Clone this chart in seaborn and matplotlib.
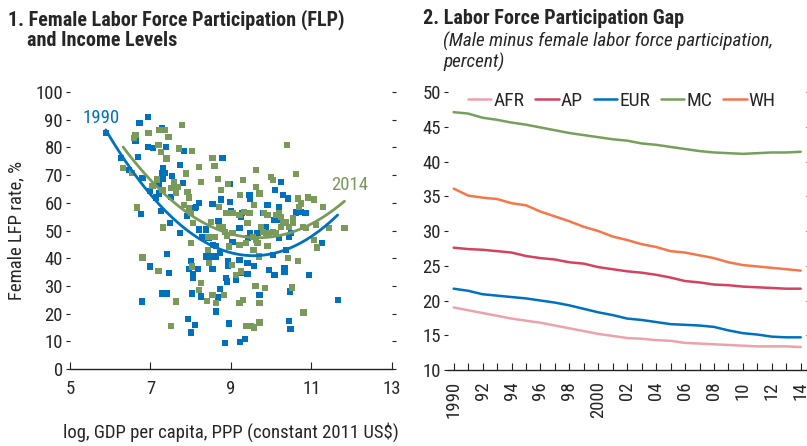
import numpy as np
import pandas as pd
import matplotlib
matplotlib.use("Agg")
import matplotlib.pyplot as plt
import seaborn as sns

# ---------------- Panel 1 data ----------------
gdp_1990 = [5.89, 6.73, 6.94, 6.27, 6.63, 6.69, 6.47, 6.80, 6.94, 7.07, 7.28, 7.38, 7.84, 7.32,
            7.30, 7.37, 7.32, 7.22, 6.99, 7.13, 7.22, 7.53, 7.26, 7.51, 7.74, 7.81, 7.73, 7.49,
            7.90, 8.13, 8.20, 8.10, 6.77, 7.41, 6.98, 7.46, 7.30, 7.42, 6.79, 8.00, 7.96, 8.05,
            8.06, 8.19, 8.03, 8.25, 7.94, 8.10, 8.00, 8.21, 8.38, 8.28, 8.44, 8.54, 8.56, 8.63,
            8.69, 8.76, 8.79, 8.98, 8.98, 9.00, 9.04, 9.21, 8.92, 8.93, 8.88, 8.90, 9.13, 8.73,
            8.68, 8.63, 8.96, 8.85, 9.23, 9.35, 8.54, 8.63, 8.54, 8.38, 8.50, 8.73, 9.21, 9.25,
            9.41, 9.41, 9.58, 9.43, 9.27, 9.25, 9.47, 9.46, 9.71, 9.95, 10.08, 9.87, 9.91, 10.24,
            10.08, 10.10, 10.20, 10.30, 10.41, 10.20, 10.45, 10.37, 10.33, 10.33, 10.49, 10.47,
            10.45, 10.48, 10.62, 10.74, 10.85, 10.93, 11.26, 11.65, 10.20, 10.04, 9.79, 9.66, 9.47]
flp_1990 = [85.2, 88.8, 91.0, 76.2, 82.4, 76.6, 71.8, 69.1, 80.2, 79.8, 87.0, 80.2, 78.6, 72.7,
            70.6, 70.9, 68.8, 67.0, 64.2, 61.9, 63.4, 69.6, 57.1, 62.2, 73.6, 67.2, 49.2, 52.8,
            55.2, 58.6, 60.0, 58.0, 55.9, 41.5, 37.0, 34.8, 27.3, 27.3, 24.4, 39.0, 36.1, 34.3,
            32.9, 36.1, 27.3, 26.2, 18.2, 16.0, 13.2, 50.4, 50.4, 47.8, 47.4, 59.5, 44.8, 44.4,
            53.4, 61.2, 76.2, 66.7, 60.4, 57.0, 46.0, 50.8, 38.8, 37.2, 33.0, 31.6, 32.2, 28.9,
            25.8, 20.8, 16.4, 9.4, 9.7, 10.8, 36.0, 40.6, 40.6, 40.6, 40.6, 42.0, 39.4, 34.6,
            38.4, 34.3, 37.3, 47.2, 56.2, 55.0, 61.6, 62.8, 26.8, 35.8, 34.0, 51.4, 59.2, 67.6,
            53.8, 64.6, 58.6, 62.8, 61.6, 47.2, 47.8, 43.0, 36.4, 35.2, 49.0, 28.0,
            17.2, 14.4, 56.5, 56.8, 56.2, 33.9, 45.4, 25.0, 53.8, 41.2, 56.2, 49.0, 49.0]

gdp_2014 = [6.63, 6.59, 6.32, 6.54, 6.67, 6.80, 6.95, 7.22, 7.37, 7.45, 7.20, 7.26, 7.40, 7.05,
            7.17, 7.30, 7.32, 7.20, 7.51, 7.59, 7.67, 7.63, 7.71, 7.78, 7.88, 8.03, 7.92, 7.95,
            7.84, 7.96, 8.00, 8.05, 8.00, 8.03, 8.21, 8.25, 8.25, 8.21, 8.54, 8.59, 8.68, 8.75,
            8.92, 8.71, 8.88, 8.96, 9.04, 9.21, 9.29, 9.23, 9.33, 9.46, 9.62, 9.62, 9.71, 9.58,
            9.83, 9.91, 10.00, 10.04, 10.12, 10.19, 10.24, 10.39, 10.62, 10.66, 10.70, 10.74,
            10.91, 11.07, 11.28, 8.71, 8.79, 8.85, 8.90, 9.04, 8.50, 8.59, 8.42, 8.42, 8.46,
            9.02, 9.12, 9.25, 8.54, 8.63, 8.40, 8.83, 9.21, 9.29, 9.61, 9.85, 9.71, 9.37, 9.50,
            9.58, 9.71, 7.63, 7.51, 10.52, 10.80, 11.14, 11.43, 11.82, 11.12, 11.07, 10.66,
            10.41, 10.54, 10.78, 10.87, 9.75, 9.79, 9.87, 9.95, 10.04, 10.12, 10.24, 9.54, 9.62,
            9.66, 9.56, 9.69, 9.37, 9.21, 8.96, 10.45, 10.54, 10.37, 10.29, 9.91, 9.41]
flp_2014 = [84.4, 83.4, 72.6, 70.8, 58.3, 40.3, 85.2, 86.4, 86.2, 83.8, 80.8, 78.4, 76.0, 66.0,
            68.4, 64.6, 51.1, 35.5, 65.5, 67.6, 65.8, 63.7, 79.6, 88.0, 70.6, 78.8, 64.0, 61.9,
            59.2, 58.0, 56.2, 52.6, 45.4, 37.0, 73.0, 67.6, 31.2, 28.6, 76.2, 73.2, 68.5, 64.6,
            66.7, 58.6, 56.4, 56.2, 56.2, 55.6, 68.2, 62.8, 56.8, 56.2, 71.8, 65.8, 63.4, 59.2,
            56.4, 55.6, 69.4, 68.2, 55.6, 56.4, 55.0, 80.8, 70.3, 61.6, 58.6, 59.8,
            61.9, 61.2, 58.6, 51.4, 51.4, 49.6, 48.0, 49.0, 53.2, 47.8, 47.8, 43.0, 38.2,
            37.6, 34.0, 35.2, 26.8, 23.8, 24.7, 26.8, 23.8, 25.0, 30.0, 29.2, 23.8, 15.6, 15.4,
            15.0, 16.8, 24.4, 15.6, 29.4, 20.4, 43.9, 50.8, 50.8, 52.0, 46.6, 39.0,
            40.0, 52.8, 51.4, 50.8, 51.4, 49.6, 49.0, 49.0, 49.6, 49.0, 51.4, 47.8, 46.8,
            45.4, 43.0, 40.6, 45.4, 44.8, 44.2, 51.4, 54.4, 53.2, 52.6, 44.5, 52.6]

# ---------------- Panel 2 data ----------------
years = list(range(1990, 2015))
regions = ["AFR", "AP", "EUR", "MC", "WH"]
gap_AFR = [19.0, 18.6, 18.2, 17.8, 17.4, 17.1, 16.8, 16.4, 16.0, 15.6, 15.2, 14.9, 14.6, 14.5,
           14.3, 14.2, 13.9, 13.8, 13.7, 13.6, 13.5, 13.4, 13.4, 13.4, 13.3]
gap_AP = [27.6, 27.4, 27.3, 27.1, 26.9, 26.4, 26.1, 25.9, 25.5, 25.3, 24.8, 24.5, 24.2, 24.0,
          23.7, 23.3, 22.8, 22.6, 22.3, 22.2, 22.0, 21.9, 21.8, 21.7, 21.7]
gap_EUR = [21.7, 21.4, 20.9, 20.7, 20.5, 20.3, 20.0, 19.7, 19.3, 18.8, 18.3, 17.9, 17.4, 17.2,
           16.9, 16.6, 16.5, 16.4, 16.2, 15.7, 15.3, 15.1, 14.8, 14.7, 14.7]
gap_MC = [47.1, 46.9, 46.3, 46.0, 45.6, 45.3, 44.9, 44.5, 44.1, 43.8, 43.5, 43.2, 43.0, 42.6,
          42.4, 42.1, 41.8, 41.5, 41.3, 41.2, 41.1, 41.2, 41.3, 41.3, 41.4]
gap_WH = [36.1, 35.1, 34.8, 34.6, 34.0, 33.7, 32.8, 32.1, 31.4, 30.6, 30.0, 29.2, 28.7, 28.1,
          27.7, 27.1, 26.9, 26.5, 26.1, 25.5, 25.1, 24.9, 24.7, 24.5, 24.3]
year_labels = ["1990", "92", "94", "96", "98", "2000", "02", "04", "06", "08", "10", "12", "14"]

# ---------------- styling ----------------
sns.set_theme(style="white")
FAM = ["Roboto Condensed", "DejaVu Sans"]
plt.rcParams["font.family"] = FAM
plt.rcParams["font.size"] = 13

BLUE = "#0071BC"
GREEN = "#7A9A5C"
colors = {"AFR": "#EBA3AB", "AP": "#D3435F", "EUR": "#0071BC", "MC": "#76A05A", "WH": "#F4774A"}
TICK_FS = 13.5

fig = plt.figure(figsize=(8.07, 4.46), dpi=100)
ax1 = fig.add_axes([0.0867, 0.1726, 0.399, 0.621])
ax2 = fig.add_axes([0.555, 0.1704, 0.4435, 0.6233])

# ---- panel 1 ----
df90 = pd.DataFrame({"x": gdp_1990, "y": flp_1990})
df14 = pd.DataFrame({"x": gdp_2014, "y": flp_2014})
sns.scatterplot(data=df90, x="x", y="y", ax=ax1, marker="s", s=20, color=BLUE,
                edgecolor="none", linewidth=0)
sns.scatterplot(data=df14, x="x", y="y", ax=ax1, marker="s", s=20, color=GREEN,
                edgecolor="none", linewidth=0)
sns.regplot(data=df90, x="x", y="y", ax=ax1, order=2, ci=None, scatter=False,
            line_kws=dict(color=BLUE, lw=2.0))
sns.regplot(data=df14, x="x", y="y", ax=ax1, order=2, ci=None, scatter=False,
            line_kws=dict(color=GREEN, lw=2.0))
ax1.text(5.78, 90.5, "1990", color=BLUE, fontsize=13.5, ha="center", va="center")
ax1.text(11.95, 66.5, "2014", color=GREEN, fontsize=13.5, ha="center", va="center")

ax1.set_xlim(5, 13)
ax1.set_ylim(0, 100)
ax1.set_xticks([5, 7, 9, 11, 13])
ax1.set_yticks(range(0, 101, 10))
ax1.set_xlabel("log, GDP per capita, PPP (constant 2011 US$)", fontsize=13.5, labelpad=17)
ax1.set_ylabel("Female LFP rate, %", fontsize=13.5, labelpad=7)

# ---- panel 2 ----
series = {"AFR": gap_AFR, "AP": gap_AP, "EUR": gap_EUR, "MC": gap_MC, "WH": gap_WH}
long = pd.DataFrame([(y, r, v) for r in regions for y, v in zip(years, series[r])],
                    columns=["year", "region", "gap"])
sns.lineplot(data=long, x="year", y="gap", hue="region", hue_order=regions,
             palette=colors, lw=1.8, ax=ax2)
ax2.set_xlim(1989.6, 2014.35)
ax2.set_ylim(10, 50)
ax2.set_yticks(range(10, 51, 5))
ax2.set_xticks(years, minor=True)
ax2.set_xticks(years[::2])
ax2.set_xticklabels(year_labels, rotation=90)
ax2.set_xlabel("")
ax2.set_ylabel("")
ax2.legend(loc="center", bbox_to_anchor=(0.056, 0.935, 0.86, 0.066), mode="expand", ncol=5,
           frameon=False, handlelength=1.2, handletextpad=0.1, columnspacing=0.5,
           fontsize=14, borderaxespad=0, borderpad=0)

for ax in (ax1, ax2):
    for s in ("left", "top", "right"):
        ax.spines[s].set_visible(False)
    ax.spines["bottom"].set_color("#222222")
    ax.spines["bottom"].set_linewidth(1.0)
    ax.tick_params(axis="y", which="both", left=True, right=True, direction="out",
                   length=3, width=0.8, color="#222222", labelsize=TICK_FS, pad=2)
    ax.tick_params(axis="x", which="both", bottom=True, direction="in", length=5,
                   width=0.8, color="#222222", labelsize=TICK_FS, pad=8)
    ax.grid(False)
ax2.tick_params(axis="x", which="minor", direction="in", length=5, width=0.8)

# ---- titles ----
fig.text(0.010, 0.979, "1. Female Labor Force Participation (FLP)", fontsize=14.5,
         fontweight="bold", va="top", ha="left")
fig.text(0.033, 0.931, "and Income Levels", fontsize=14.5, fontweight="bold", va="top", ha="left")
fig.text(0.524, 0.979, "2. Labor Force Participation Gap", fontsize=14.5, fontweight="bold",
         va="top", ha="left")
fig.text(0.549, 0.929, "(Male minus female labor force participation,\npercent)",
         fontsize=13.8, fontstyle="italic", va="top", ha="left", linespacing=1.12)

fig.savefig("out.png", dpi=100)
